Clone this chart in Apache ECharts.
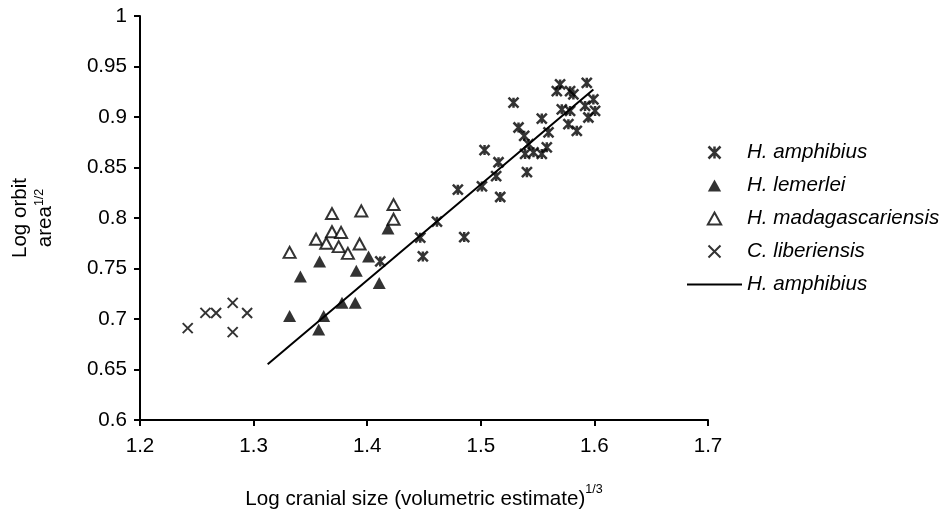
<!DOCTYPE html>
<html>
<head>
<meta charset="utf-8">
<script src="https://cdn.jsdelivr.net/npm/echarts@6/dist/echarts.min.js"></script>
<style>
html,body{margin:0;padding:0;background:#fff;}
#chart{width:946px;height:516px;}
</style>
</head>
<body>
<div id="chart"></div>
<script>
// ---- data ----
var xTicks = [1.2, 1.3, 1.4, 1.5, 1.6, 1.7];
var yTicks = [0.6, 0.65, 0.7, 0.75, 0.8, 0.85, 0.9, 0.95, 1];

var amphibiusX = [1.4115, 1.4467, 1.449, 1.4614, 1.4854, 1.4798, 1.501, 1.5171, 1.5135, 1.5156, 1.5033, 1.5288, 1.5406, 1.5332, 1.5382, 1.542, 1.539, 1.5464, 1.5537, 1.5581, 1.5537, 1.5596, 1.5698, 1.5669, 1.5786, 1.5815, 1.5713, 1.5786, 1.5771, 1.5845, 1.5933, 1.5991, 1.5918, 1.6006, 1.5947];
var amphibiusY = [0.757, 0.7805, 0.762, 0.7963, 0.7811, 0.828, 0.8313, 0.8208, 0.8415, 0.8552, 0.8673, 0.9142, 0.8454, 0.8896, 0.8814, 0.8732, 0.8634, 0.865, 0.8634, 0.87, 0.8985, 0.8847, 0.9322, 0.9256, 0.9256, 0.9224, 0.9076, 0.906, 0.8929, 0.8863, 0.9339, 0.9174, 0.9109, 0.906, 0.8995];

var lemerleiX = [1.3317, 1.3573, 1.3617, 1.3778, 1.3895, 1.3412, 1.3581, 1.3904, 1.4012, 1.4106, 1.4183];
var lemerleiY = [0.7029, 0.6897, 0.7029, 0.716, 0.716, 0.7422, 0.757, 0.7477, 0.7619, 0.7356, 0.7897];

var madagascariensisX = [1.3317, 1.355, 1.369, 1.364, 1.369, 1.377, 1.3749, 1.383, 1.3933, 1.3948, 1.4232, 1.4232];
var madagascariensisY = [0.766, 0.779, 0.8044, 0.775, 0.7864, 0.7857, 0.7717, 0.765, 0.7743, 0.807, 0.8133, 0.7988];

var liberiensisX = [1.242, 1.2576, 1.267, 1.2816, 1.2943, 1.2816];
var liberiensisY = [0.691, 0.7061, 0.706, 0.716, 0.706, 0.687];

var fitX = [1.3124, 1.5991];
var fitY = [0.6553, 0.9273];

var seriesNames = ['H. amphibius', 'H. lemerlei', 'H. madagascariensis', 'C. liberiensis', 'H. amphibius '];

function pairs(xs, ys) {
  return xs.map(function (x, i) { return [x, ys[i]]; });
}

var FONT = '"Liberation Sans", Arial, sans-serif';
var FS = 20.6;
var STAR = 'path://M0,0L10,10M10,0L0,10M5,0L5,10';
var CROSS = 'path://M0,0L10,10M10,0L0,10';
var TRI = 'path://M5,0L10,9L0,9Z';
var LINEICON = 'path://M0,0L55,0L55,2L0,2Z';

var chart = echarts.init(document.getElementById('chart'), null, {renderer: 'canvas'});
chart.setOption({
  animation: false,
  backgroundColor: '#fff',
  textStyle: {fontFamily: FONT, color: '#000'},
  grid: {left: 139.5, right: 238, top: 16, bottom: 93, containLabel: false},
  xAxis: {
    type: 'value',
    min: xTicks[0], max: xTicks[xTicks.length - 1], interval: 0.1,
    axisLine: {onZero: false, lineStyle: {color: '#000', width: 2}},
    axisTick: {show: true, inside: false, length: 6, lineStyle: {color: '#000', width: 2}},
    splitLine: {show: false},
    axisLabel: {fontSize: FS, color: '#000', fontFamily: FONT, margin: 16},
    name: 'Log cranial size (volumetric estimate){sup|1/3}',
    nameLocation: 'middle',
    nameGap: 67,
    nameTextStyle: {
      fontSize: FS, color: '#000', fontFamily: FONT, lineHeight: 24,
      rich: {sup: {fontSize: 12.5, verticalAlign: 'top', lineHeight: 24, color: '#000', fontFamily: FONT, padding: [-4, 0, 0, 0]}}
    }
  },
  yAxis: {
    type: 'value',
    min: yTicks[0], max: yTicks[yTicks.length - 1], interval: 0.05,
    axisLine: {onZero: false, lineStyle: {color: '#000', width: 2}},
    axisTick: {show: true, inside: false, length: 6, lineStyle: {color: '#000', width: 2}},
    splitLine: {show: false},
    axisLabel: {fontSize: FS, color: '#000', fontFamily: FONT, margin: 13},
    name: 'Log orbit\narea{sup|1/2}',
    nameLocation: 'middle',
    nameGap: 82,
    nameRotate: 90,
    nameTextStyle: {
      fontSize: FS, color: '#000', fontFamily: FONT, lineHeight: 25, align: 'center',
      rich: {sup: {fontSize: 12.5, verticalAlign: 'top', lineHeight: 25, color: '#000', fontFamily: FONT}}
    }
  },
  legend: {
    orient: 'vertical',
    left: 687, top: 142,
    padding: 0,
    itemWidth: 55, itemHeight: 12,
    itemGap: 12,
    symbolKeepAspect: true,
    textStyle: {fontSize: FS, fontStyle: 'italic', color: '#000', fontFamily: FONT, padding: [0, 0, 0, 0]},
    data: [
      {name: seriesNames[0], icon: STAR, itemStyle: {color: 'none', borderColor: '#000', borderWidth: 2.5}},
      {name: seriesNames[1], icon: TRI, itemStyle: {color: '#000', borderWidth: 0}},
      {name: seriesNames[2], icon: TRI, itemStyle: {color: '#fff', borderColor: '#000', borderWidth: 2}},
      {name: seriesNames[3], icon: CROSS, itemStyle: {color: 'none', borderColor: '#000', borderWidth: 2}},
      {name: seriesNames[4], icon: LINEICON, itemStyle: {color: '#000', borderWidth: 0}}
    ]
  },
  series: [
    {
      name: seriesNames[0], type: 'scatter', symbol: STAR, symbolSize: 10,
      itemStyle: {color: 'none', borderColor: '#000', borderWidth: 2.5},
      data: pairs(amphibiusX, amphibiusY), z: 3
    },
    {
      name: seriesNames[1], type: 'scatter', symbol: TRI, symbolSize: [13, 12],
      itemStyle: {color: '#000', borderWidth: 0},
      data: pairs(lemerleiX, lemerleiY), z: 3
    },
    {
      name: seriesNames[2], type: 'scatter', symbol: TRI, symbolSize: [12, 11],
      itemStyle: {color: '#fff', borderColor: '#000', borderWidth: 2},
      data: pairs(madagascariensisX, madagascariensisY), z: 3
    },
    {
      name: seriesNames[3], type: 'scatter', symbol: CROSS, symbolSize: 10,
      itemStyle: {color: 'none', borderColor: '#000', borderWidth: 2},
      data: pairs(liberiensisX, liberiensisY), z: 3
    },
    {
      name: seriesNames[4], type: 'line', symbol: 'none', showSymbol: false,
      lineStyle: {color: '#000', width: 2},
      itemStyle: {color: '#000'},
      data: pairs(fitX, fitY), z: 2
    }
  ]
});
</script>
</body>
</html>
